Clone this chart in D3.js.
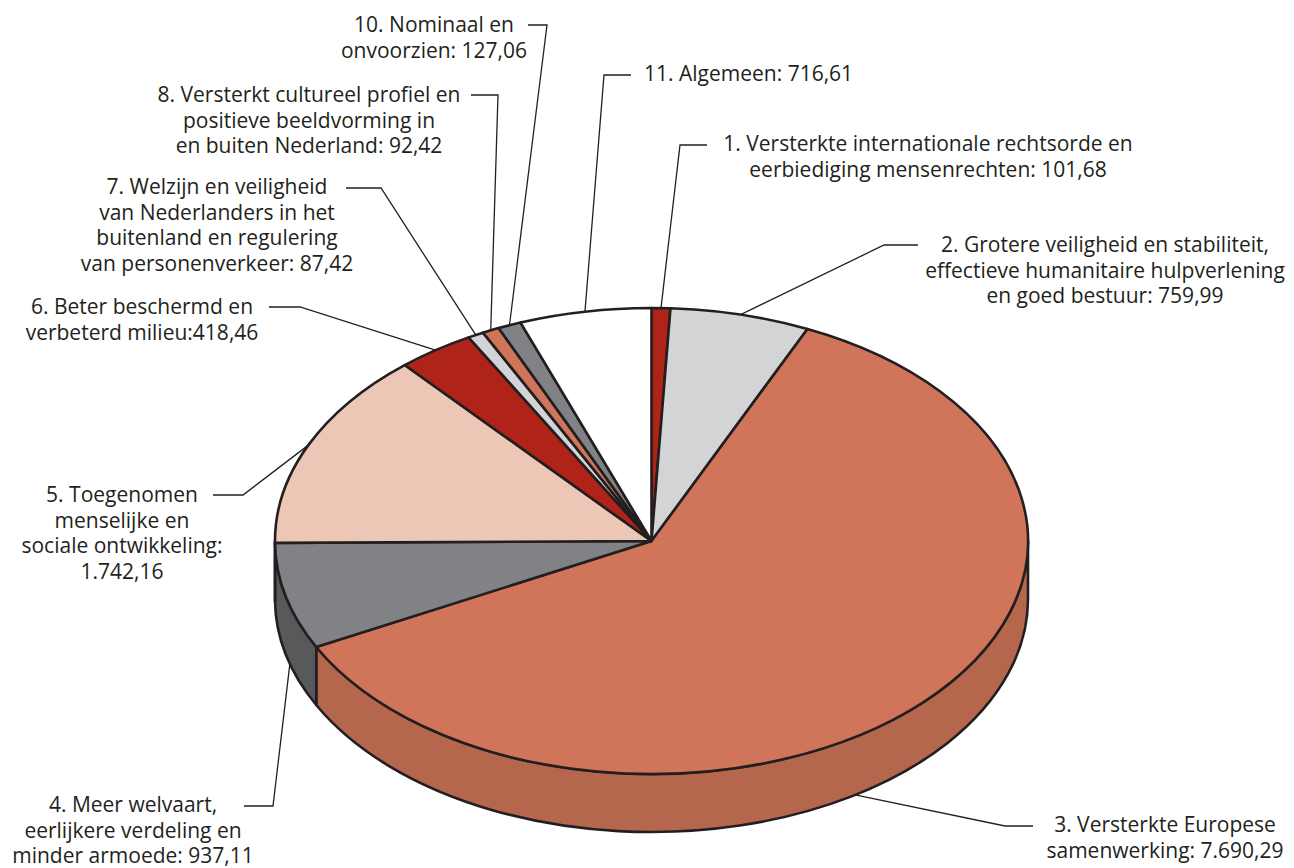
<!DOCTYPE html>
<html lang="nl">
<head>
    <meta charset="UTF-8">
    <title>Uitgaven per beleidsartikel</title>
    <script src="https://cdn.jsdelivr.net/npm/d3@7/dist/d3.min.js"></script>
    <style>
        body { margin: 0; background: #fff; }
        text { font-family: "Open Sans", sans-serif; font-size: 21px; fill: #231f20; }
    </style>
</head>
<body>
<script>
    // data, clockwise from 12 o'clock
    var categories = ['1', '2', '3', '4', '5', '6', '7', '8', '10', '11']
    var values = [101.68, 759.99, 7690.29, 937.11, 1742.16, 418.46, 87.42, 92.42, 127.06, 716.61]
    var labelLines = [
        ['1. Versterkte internationale rechtsorde en', 'eerbiediging mensenrechten: 101,68'],
        ['2. Grotere veiligheid en stabiliteit,', 'effectieve humanitaire hulpverlening', 'en goed bestuur: 759,99'],
        ['3. Versterkte Europese', 'samenwerking: 7.690,29'],
        ['4. Meer welvaart,', 'eerlijkere verdeling en', 'minder armoede: 937,11'],
        ['5. Toegenomen', 'menselijke en', 'sociale ontwikkeling:', '1.742,16'],
        ['6. Beter beschermd en', 'verbeterd milieu:418,46'],
        ['7. Welzijn en veiligheid', 'van Nederlanders in het', 'buitenland en regulering', 'van personenverkeer: 87,42'],
        ['8. Versterkt cultureel profiel en', 'positieve beeldvorming in', 'en buiten Nederland: 92,42'],
        ['10. Nominaal en', 'onvoorzien: 127,06'],
        ['11. Algemeen: 716,61']
    ]

    var topColors = ['#b02318', '#d3d4d6', '#d07559', '#818286', '#ecc7b5', '#b02318', '#d3d4d6', '#d07559', '#818286', '#ffffff']
    var sideColors = ['#8a1b12', '#a5a6a8', '#b5674e', '#58595b', '#c9a796', '#8a1b12', '#a5a6a8', '#b5674e', '#58595b', '#dddddd']

    // label placement: text x, first baseline, elbow of leader, end of short horizontal, position on slice
    var labelPos = [
        {x: 928, y: 151, ex: 680, ey: 145, hx: 707, t: 0.5, down: 0},
        {x: 1105, y: 252, ex: 884, ey: 245, hx: 918, t: 0.5, down: 0},
        {x: 1165, y: 832, ex: 1005, ey: 826, hx: 1033, t: 0.562, down: 1},
        {x: 133, y: 812, ex: 273, ey: 806, hx: 244, t: 0.41, down: 1},
        {x: 122, y: 502, ex: 243, ey: 495, hx: 213, t: 0.5, down: 0},
        {x: 142, y: 314, ex: 300, ey: 307, hx: 269, t: 0.5, down: 0},
        {x: 217, y: 194, ex: 381, ey: 188, hx: 346, t: 0.5, down: 0},
        {x: 309, y: 102, ex: 498, ey: 95, hx: 471, t: 0.5, down: 0},
        {x: 434, y: 32, ex: 547, ey: 25, hx: 528, t: 0.5, down: 0},
        {x: 644, y: 81, ex: 604, ey: 75, hx: 631, t: 0.5, down: 0, anchor: 'start'}
    ]

    var width = 1294
    var height = 868
    var cx = 651.5, cy = 541
    var rx = 376.5, ry = 233
    var depth = 58
    var lineHeight = 25.5

    var svg = d3.select('body')
        .append('svg')
        .attr('width', width)
        .attr('height', height)

    var pie = d3.pie().sort(null).value(function (d) { return d })
    var piedata = pie(values)

    // tilted ellipse projection of a pie angle
    function px(a) { return cx + rx * Math.sin(a) }
    function py(a) { return cy - ry * Math.cos(a) }

    function topPath(d) {
        var a0 = d.startAngle, a1 = d.endAngle
        return 'M' + cx + ',' + cy +
            'L' + px(a0) + ',' + py(a0) +
            'A' + rx + ',' + ry + ' 0 ' + (a1 - a0 > Math.PI ? 1 : 0) + ' 1 ' + px(a1) + ',' + py(a1) + 'Z'
    }

    function sidePath(d) {
        var s = Math.max(d.startAngle, Math.PI / 2)
        var e = Math.min(d.endAngle, Math.PI * 1.5)
        if (s >= e) return null
        return 'M' + px(s) + ',' + py(s) +
            'A' + rx + ',' + ry + ' 0 0 1 ' + px(e) + ',' + py(e) +
            'L' + px(e) + ',' + (py(e) + depth) +
            'A' + rx + ',' + ry + ' 0 0 0 ' + px(s) + ',' + (py(s) + depth) + 'Z'
    }

    // leader lines
    var leaders = svg.append('g')
        .attr('fill', 'none')
        .attr('stroke', '#231f20')
        .attr('stroke-width', 1.3)

    leaders.selectAll('polyline')
        .data(piedata)
        .enter()
        .append('polyline')
        .attr('points', function (d, i) {
            var p = labelPos[i]
            var a = d.startAngle + (d.endAngle - d.startAngle) * p.t
            var ax = px(a), ay = py(a) + p.down * depth
            return [[p.hx, p.ey], [p.ex, p.ey], [ax, ay]].join(' ')
        })

    var sides = piedata.filter(function (d) { return sidePath(d) !== null })

    svg.append('g').selectAll('path')
        .data(sides)
        .enter()
        .append('path')
        .attr('d', sidePath)
        .attr('fill', function (d) { return sideColors[d.index] })
        .attr('stroke', '#231f20')
        .attr('stroke-width', 2.6)
        .attr('stroke-linejoin', 'round')

    svg.append('g').selectAll('path')
        .data(piedata)
        .enter()
        .append('path')
        .attr('d', topPath)
        .attr('fill', function (d, i) { return topColors[i] })
        .attr('stroke', '#231f20')
        .attr('stroke-width', 2.6)
        .attr('stroke-linejoin', 'round')

    // labels
    var labels = svg.append('g').selectAll('text')
        .data(labelLines)
        .enter()
        .append('text')
        .attr('text-anchor', function (d, i) { return labelPos[i].anchor || 'middle' })

    labels.selectAll('tspan')
        .data(function (d, i) {
            return d.map(function (line, j) { return {line: line, i: i, j: j} })
        })
        .enter()
        .append('tspan')
        .attr('x', function (d) { return labelPos[d.i].x })
        .attr('y', function (d) { return labelPos[d.i].y + d.j * lineHeight })
        .text(function (d) { return d.line })
</script>
</body>
</html>
